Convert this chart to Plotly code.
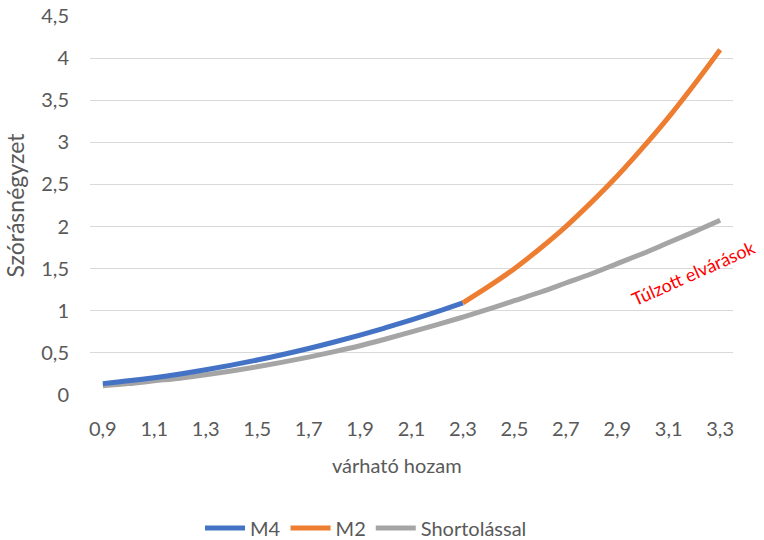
import plotly.graph_objects as go

# x categories (várható hozam)
x_all = [0.9, 1.0, 1.1, 1.2, 1.3, 1.4, 1.5, 1.6, 1.7, 1.8, 1.9, 2.0, 2.1, 2.2, 2.3,
         2.4, 2.5, 2.6, 2.7, 2.8, 2.9, 3.0, 3.1, 3.2, 3.3]
x_m4 = x_all[:15]
x_m2 = x_all[14:]

m4 = [0.135, 0.168, 0.206, 0.25, 0.30, 0.355, 0.415, 0.481, 0.552, 0.629, 0.711,
      0.799, 0.892, 0.991, 1.095]
m2 = [1.095, 1.29, 1.50, 1.74, 2.00, 2.29, 2.60, 2.94, 3.30, 3.69, 4.10]
short = [0.11, 0.135, 0.168, 0.20, 0.24, 0.285, 0.335, 0.39, 0.45, 0.515, 0.585,
         0.665, 0.75, 0.835, 0.925, 1.02, 1.12, 1.22, 1.33, 1.44, 1.56, 1.68, 1.81,
         1.94, 2.075]

x_tickvals = [0.9, 1.1, 1.3, 1.5, 1.7, 1.9, 2.1, 2.3, 2.5, 2.7, 2.9, 3.1, 3.3]
x_ticktext = ["0,9", "1,1", "1,3", "1,5", "1,7", "1,9", "2,1", "2,3", "2,5", "2,7",
              "2,9", "3,1", "3,3"]
y_tickvals = [0, 0.5, 1, 1.5, 2, 2.5, 3, 3.5, 4, 4.5]
y_ticktext = ["0", "0,5", "1", "1,5", "2", "2,5", "3", "3,5", "4", "4,5"]

FONT = "Lato, 'Liberation Sans', sans-serif"
GREY_TXT = "#595959"

fig = go.Figure()
fig.add_trace(go.Scatter(x=x_all, y=short, mode="lines", name="Shortolással",
                         line=dict(color="#A5A5A5", width=5, shape="spline"),
                         legendrank=3))
fig.add_trace(go.Scatter(x=x_m4, y=m4, mode="lines", name="M4",
                         line=dict(color="#4472C4", width=5, shape="spline"),
                         legendrank=1))
fig.add_trace(go.Scatter(x=x_m2, y=m2, mode="lines", name="M2",
                         line=dict(color="#ED7D31", width=5, shape="spline"),
                         legendrank=2))

fig.add_annotation(x=3.195, y=1.45, text="Túlzott elvárások", showarrow=False,
                   textangle=-24, font=dict(family=FONT, size=18, color="#FF0000"))

# x axis title, positioned as in the reference (centred on the chart area)
fig.add_annotation(xref="paper", yref="paper", x=(397 - 90) / 643, y=-(465 - 395) / 379,
                   xanchor="center", yanchor="middle", showarrow=False,
                   text="várható hozam", font=dict(family=FONT, size=20, color=GREY_TXT))

fig.update_layout(
    width=764, height=540,
    margin=dict(l=90, r=31, t=16, b=145, autoexpand=False),
    paper_bgcolor="white", plot_bgcolor="white",
    font=dict(family=FONT, size=20, color=GREY_TXT),
    showlegend=True,
    legend=dict(orientation="h", x=(366 - 90) / 643, xanchor="center",
                y=-(528 - 395) / 379, yanchor="middle",
                font=dict(family=FONT, size=20, color=GREY_TXT), itemwidth=40,
                traceorder="normal"),
    xaxis=dict(range=[0.85, 3.35], tickvals=x_tickvals, ticktext=x_ticktext,
               showgrid=False, zeroline=False, showline=False, ticks="",
               automargin=False, ticklabelstandoff=20,
               tickfont=dict(size=20, color=GREY_TXT)),
    yaxis=dict(range=[0, 4.5], tickvals=y_tickvals, ticktext=y_ticktext,
               showgrid=True, gridcolor="#D9D9D9", gridwidth=1.3,
               zeroline=False, showline=False, ticks="",
               automargin=False, ticklabelstandoff=20,
               tickfont=dict(size=20, color=GREY_TXT),
               title=dict(text="Szórásnégyzet", font=dict(size=23, color=GREY_TXT),
                          standoff=10)),
)

fig.write_html("out.html", config={"displayModeBar": False},
               post_script="document.body.style.margin='0';")
